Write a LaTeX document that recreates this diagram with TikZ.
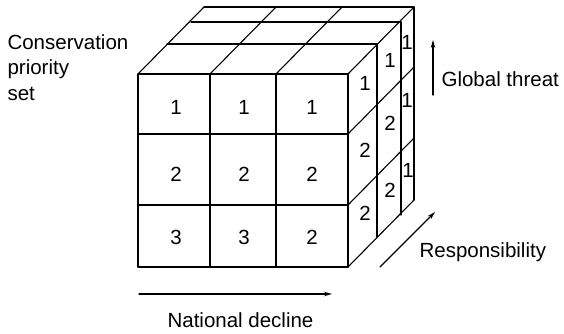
\documentclass[tikz,border=0pt]{standalone}
\usepackage{fontspec}
\setmainfont{Liberation Sans}
\usetikzlibrary{arrows.meta}
\begin{document}
\begin{tikzpicture}[x=1pt,y=-1pt,line width=1.1pt,line cap=round,
  lbl/.style={font=\fontsize{20.5}{25}\selectfont,inner sep=0pt,anchor=base west},
  num/.style={font=\fontsize{20.5}{25}\selectfont,inner sep=0pt},
  axis/.style={line width=1.1pt,-{Stealth[length=8pt,width=4.5pt]}}]
\useasboundingbox (0,0) rectangle (564,334);
% front face
\foreach \x in {138,210,276,348} \draw (\x,74) -- (\x,267);
\foreach \y in {74,134,205,267} \draw (138,\y) -- (348,\y);
% top face
\foreach \dx/\dy in {29/-30,53/-52,66/-67} \draw (138+\dx,74+\dy) -- (348+\dx,74+\dy);
\foreach \x in {138,210,276,348} \draw (\x,74) -- ++(66,-67);
% side face
\foreach \dx/\dy in {29/-30,53/-52,66/-67} \draw (348+\dx,74+\dy) -- (348+\dx,267+\dy);
\foreach \y in {134,205,267} \draw (348,\y) -- ++(66,-67);
% front numbers
\node[num] (f11) at (176,107) {1};
\node[num] (f12) at (244,107) {1};
\node[num] (f13) at (312,107) {1};
\node[num] (f21) at (176,174) {2};
\node[num] (f22) at (244,174) {2};
\node[num] (f23) at (312,174) {2};
\node[num] (f31) at (176,237) {3};
\node[num] (f32) at (244,237) {3};
\node[num] (f33) at (312,237) {2};
% side numbers
\node[num] (s11) at (365,83) {1};
\node[num] (s21) at (365,150) {2};
\node[num] (s31) at (365,213) {2};
\node[num] (s12) at (390,60) {1};
\node[num] (s22) at (390,123) {2};
\node[num] (s32) at (390,190) {2};
\node[num] (s13) at (407,42) {1};
\node[num] (s23) at (407,100) {1};
\node[num] (s33) at (408,170) {1};
% labels
\node[lbl] (cons1) at (7,50) {Conservation};
\node[lbl] (cons2) at (7,75) {priority};
\node[lbl] (cons3) at (7,100) {set};
\node[lbl] (gt) at (441,87) {Global threat};
\node[lbl] (resp) at (419,257) {Responsibility};
\node[lbl] (nat) at (167,327) {National decline};
% axes
\coordinate (gta) at (433,95); \coordinate (gtb) at (433,40);
\coordinate (ra) at (380,267); \coordinate (rb) at (435,212);
\coordinate (na) at (139,294); \coordinate (nb) at (332,294);
\draw[axis] (gta) -- (gtb);
\draw[axis] (ra) -- (rb);
\draw[axis] (na) -- (nb);
\end{tikzpicture}
\end{document}
